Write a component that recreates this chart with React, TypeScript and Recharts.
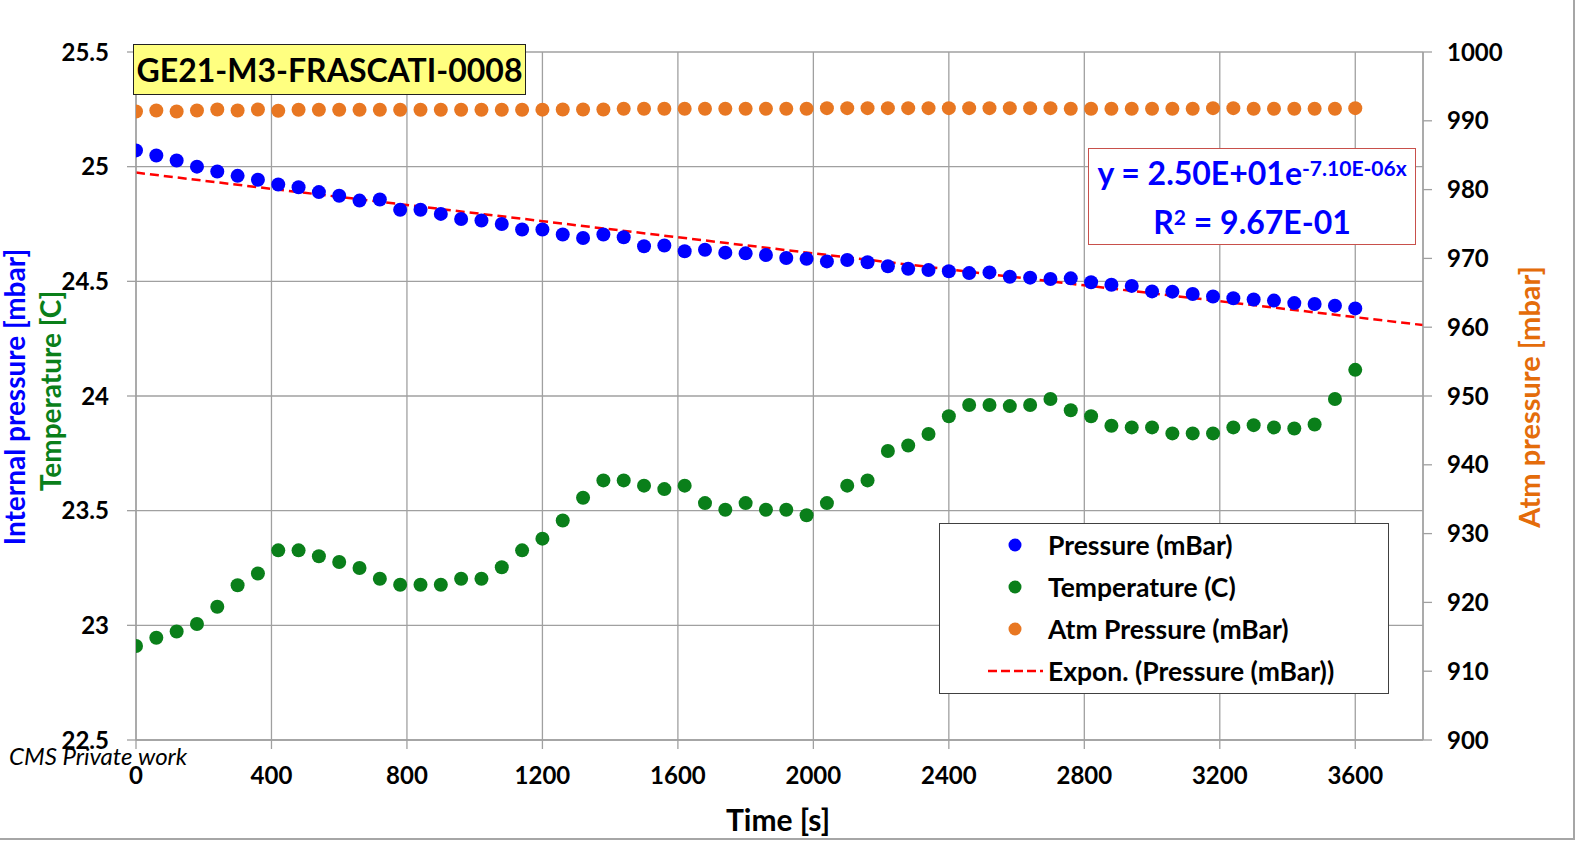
import React from 'react';
import { ComposedChart, Scatter, Line, XAxis, YAxis, CartesianGrid } from 'recharts';

const FONT = 'Lato, "Open Sans", sans-serif';

// time stamps of the readings [s]
const TIME_S = [
  0, 60, 120, 180, 240, 300, 360, 420, 480, 540, 600, 660, 720, 780, 840, 900, 960, 1020, 1080, 1140, 1200,
  1260, 1320, 1380, 1440, 1500, 1560, 1620, 1680, 1740, 1800, 1860, 1920, 1980, 2040, 2100, 2160, 2220, 2280,
  2340, 2400, 2460, 2520, 2580, 2640, 2700, 2760, 2820, 2880, 2940, 3000, 3060, 3120, 3180, 3240, 3300, 3360,
  3420, 3480, 3540, 3600,
];

const PRESSURE_MBAR = [
  25.071, 25.049, 25.027, 25.0, 24.979, 24.96, 24.943, 24.922, 24.91, 24.889, 24.873, 24.852, 24.857, 24.812,
  24.812, 24.794, 24.772, 24.765, 24.75, 24.726, 24.726,
  24.704, 24.689, 24.704, 24.692, 24.653, 24.656, 24.631, 24.638, 24.625, 24.622, 24.615, 24.602, 24.598,
  24.587, 24.593, 24.583, 24.566, 24.555, 24.549, 24.544, 24.536, 24.539, 24.52, 24.516, 24.51, 24.513, 24.496,
  24.485, 24.48, 24.456, 24.455, 24.445, 24.434, 24.426, 24.421, 24.416, 24.405, 24.401, 24.394, 24.382,
];

const TEMPERATURE_C = [
  22.91, 22.946, 22.973, 23.006, 23.081, 23.175, 23.226, 23.327, 23.327, 23.301, 23.276, 23.25, 23.203, 23.177,
  23.177, 23.177, 23.203, 23.203, 23.253, 23.327, 23.378,
  23.457, 23.556, 23.632, 23.632, 23.609, 23.594, 23.609, 23.533, 23.504, 23.533, 23.504, 23.504, 23.48,
  23.533, 23.609, 23.632, 23.76, 23.784, 23.834, 23.912, 23.961, 23.961, 23.956, 23.961, 23.987, 23.938, 23.912,
  23.87, 23.863, 23.863, 23.837, 23.837, 23.837, 23.863, 23.873, 23.863, 23.858, 23.876, 23.987, 24.114,
];

const ATM_MBAR = [
  991.36, 991.5, 991.36, 991.5, 991.65, 991.5, 991.65, 991.45, 991.6, 991.6, 991.6, 991.6, 991.6, 991.6,
  991.6, 991.6, 991.6, 991.6, 991.6, 991.6, 991.62,
  991.65, 991.65, 991.65, 991.75, 991.75, 991.75, 991.75, 991.75, 991.75, 991.75, 991.75, 991.75, 991.75,
  991.84, 991.84, 991.84, 991.84, 991.84, 991.84, 991.84, 991.84, 991.84, 991.84, 991.84, 991.84, 991.75, 991.75,
  991.75, 991.75, 991.75, 991.75, 991.75, 991.84, 991.84, 991.75, 991.75, 991.75, 991.75, 991.75, 991.84,
];

const X_TICKS = [0, 400, 800, 1200, 1600, 2000, 2400, 2800, 3200, 3600];
const LEFT_TICKS = [22.5, 23, 23.5, 24, 24.5, 25, 25.5];
const RIGHT_TICKS = [900, 910, 920, 930, 940, 950, 960, 970, 980, 990, 1000];
const X_MAX = 3800;

const BLUE = '#0000FF';
const GREEN = '#0A7F1A';
const ORANGE = '#E87722';
const GRID = '#A0A0A0';

const pressureRows = TIME_S.map((t, i) => ({ t, v: PRESSURE_MBAR[i] }));
const tempRows = TIME_S.map((t, i) => ({ t, v: TEMPERATURE_C[i] }));
const atmRows = TIME_S.map((t, i) => ({ t, v: ATM_MBAR[i] }));

// exponential trendline, least squares on ln(p) like Excel does
const fitExp = () => {
  const n = TIME_S.length;
  const lnP = PRESSURE_MBAR.map((p) => Math.log(p));
  const tMean = TIME_S.reduce((s, t) => s + t, 0) / n;
  const lMean = lnP.reduce((s, l) => s + l, 0) / n;
  let num = 0;
  let den = 0;
  TIME_S.forEach((t, i) => {
    num += (t - tMean) * (lnP[i] - lMean);
    den += (t - tMean) * (t - tMean);
  });
  const b = num / den;
  const a = Math.exp(lMean - b * tMean);
  return { a, b };
};
const { a: FIT_A, b: FIT_B } = fitExp();
const fitRows = [...X_TICKS, X_MAX].map((t) => ({ t, v: FIT_A * Math.exp(FIT_B * t) }));

const tickStyle = { fill: '#000', fontSize: 24, fontWeight: 700, fontFamily: FONT };

const dot = (color: string) => (props: any) => <circle cx={props.cx} cy={props.cy} r={7} fill={color} />;

function RotatedTitle({ cx, cy, color, text, size }: { cx: number; cy: number; color: string; text: string; size: number }) {
  return (
    <div
      style={{
        position: 'absolute',
        left: cx,
        top: cy,
        transform: 'translate(-50%, -50%) rotate(-90deg)',
        whiteSpace: 'nowrap',
        fontSize: size,
        fontWeight: 700,
        lineHeight: 1,
        color,
      }}
    >
      {text}
    </div>
  );
}

function LegendRow({ color, label, dashed }: { color: string; label: string; dashed?: boolean }) {
  return (
    <div style={{ display: 'flex', alignItems: 'center', height: 42 }}>
      <svg width={60} height={20} style={{ flex: 'none' }}>
        {dashed ? (
          <line x1={0} y1={10} x2={55} y2={10} stroke="#FF0000" strokeWidth={2.5} strokeDasharray="9 4" />
        ) : (
          <circle cx={27} cy={10} r={6.5} fill={color} />
        )}
      </svg>
      <span style={{ fontSize: 26.5, fontWeight: 700, lineHeight: 1, whiteSpace: 'nowrap' }}>{label}</span>
    </div>
  );
}

export default function App() {
  return (
    <div
      style={{
        position: 'absolute',
        left: 0,
        top: 0,
        width: 1578,
        height: 842,
        background: '#fff',
        fontFamily: FONT,
        overflow: 'hidden',
        color: '#000',
      }}
    >
      <ComposedChart width={1578} height={842} margin={{ top: 52, right: 0, bottom: 0, left: 0 }}>
        <CartesianGrid stroke={GRID} strokeWidth={1.3} />
        <XAxis
          type="number"
          dataKey="t"
          domain={[0, X_MAX]}
          ticks={X_TICKS}
          allowDataOverflow
          height={102}
          stroke={GRID}
          strokeWidth={1.3}
          tickSize={9}
          tickMargin={18}
          tick={tickStyle}
        />
        <YAxis
          type="number"
          domain={[22.5, 25.5]}
          ticks={LEFT_TICKS}
          allowDataOverflow
          width={136}
          stroke={GRID}
          strokeWidth={1.3}
          tickSize={9}
          tickMargin={18}
          tick={tickStyle}
        />
        <YAxis
          yAxisId="right"
          orientation="right"
          type="number"
          domain={[900, 1000]}
          ticks={RIGHT_TICKS}
          allowDataOverflow
          width={155}
          stroke={GRID}
          strokeWidth={1.3}
          tickSize={9}
          tickMargin={15}
          tick={tickStyle}
        />
        <Scatter yAxisId="right" data={atmRows} dataKey="v" shape={dot(ORANGE)} isAnimationActive={false} />
        <Scatter data={pressureRows} dataKey="v" shape={dot(BLUE)} isAnimationActive={false} />
        <Scatter data={tempRows} dataKey="v" shape={dot(GREEN)} isAnimationActive={false} />
        <Line
          data={fitRows}
          dataKey="v"
          type="linear"
          stroke="#FF0000"
          strokeWidth={2.5}
          strokeDasharray="9 5"
          dot={false}
          activeDot={false}
          isAnimationActive={false}
        />
      </ComposedChart>

      {/* title box */}
      <div
        style={{
          position: 'absolute',
          left: 133,
          top: 44,
          width: 393,
          height: 51,
          boxSizing: 'border-box',
          border: '1.5px solid #222',
          background: '#FFFF80',
          display: 'flex',
          alignItems: 'center',
          justifyContent: 'center',
          fontSize: 32,
          fontWeight: 700,
          whiteSpace: 'nowrap',
        }}
      >
        GE21-M3-FRASCATI-0008
      </div>

      {/* trendline equation */}
      <div
        style={{
          position: 'absolute',
          left: 1088,
          top: 148,
          width: 328,
          height: 97,
          boxSizing: 'border-box',
          border: '1.5px solid #C8504B',
          background: '#fff',
          color: BLUE,
          fontWeight: 700,
          textAlign: 'center',
          paddingTop: 1,
          whiteSpace: 'nowrap',
        }}
      >
        <div style={{ fontSize: 32, lineHeight: '45px' }}>
          y = 2.50E+01e<span style={{ fontSize: 21, position: 'relative', top: -9 }}>-7.10E-06x</span>
        </div>
        <div style={{ fontSize: 32, lineHeight: '45px' }}>
          R<span style={{ fontSize: 21, position: 'relative', top: -9 }}>2</span> = 9.67E-01
        </div>
      </div>

      {/* legend */}
      <div
        style={{
          position: 'absolute',
          left: 939,
          top: 523,
          width: 450,
          height: 171,
          boxSizing: 'border-box',
          border: '1.5px solid #404040',
          background: '#fff',
          paddingLeft: 48,
        }}
      >
        <LegendRow color={BLUE} label="Pressure (mBar)" />
        <LegendRow color={GREEN} label="Temperature (C)" />
        <LegendRow color={ORANGE} label="Atm Pressure (mBar)" />
        <LegendRow color="#FF0000" label="Expon. (Pressure (mBar))" dashed />
      </div>

      <RotatedTitle cx={14} cy={397} color={BLUE} size={28} text="Internal pressure [mbar]" />
      <RotatedTitle cx={50} cy={391} color={GREEN} size={28} text="Temperature [C]" />
      <RotatedTitle cx={1528} cy={397} color="#E46C0A" size={29} text="Atm pressure [mbar]" />

      <div
        style={{
          position: 'absolute',
          left: 778,
          top: 804,
          transform: 'translateX(-50%)',
          fontSize: 30,
          fontWeight: 700,
          lineHeight: 1,
          whiteSpace: 'nowrap',
        }}
      >
        Time [s]
      </div>

      <div
        style={{
          position: 'absolute',
          left: 9,
          top: 744,
          fontSize: 24,
          fontStyle: 'italic',
          lineHeight: 1,
          whiteSpace: 'nowrap',
        }}
      >
        CMS Private work
      </div>

      {/* frame of the original screenshot */}
      <div
        style={{
          position: 'absolute',
          left: 0,
          top: 0,
          width: 1575,
          height: 840,
          boxSizing: 'border-box',
          borderRight: '2px solid #A6A6A6',
          borderBottom: '2px solid #A6A6A6',
          pointerEvents: 'none',
        }}
      />
    </div>
  );
}
